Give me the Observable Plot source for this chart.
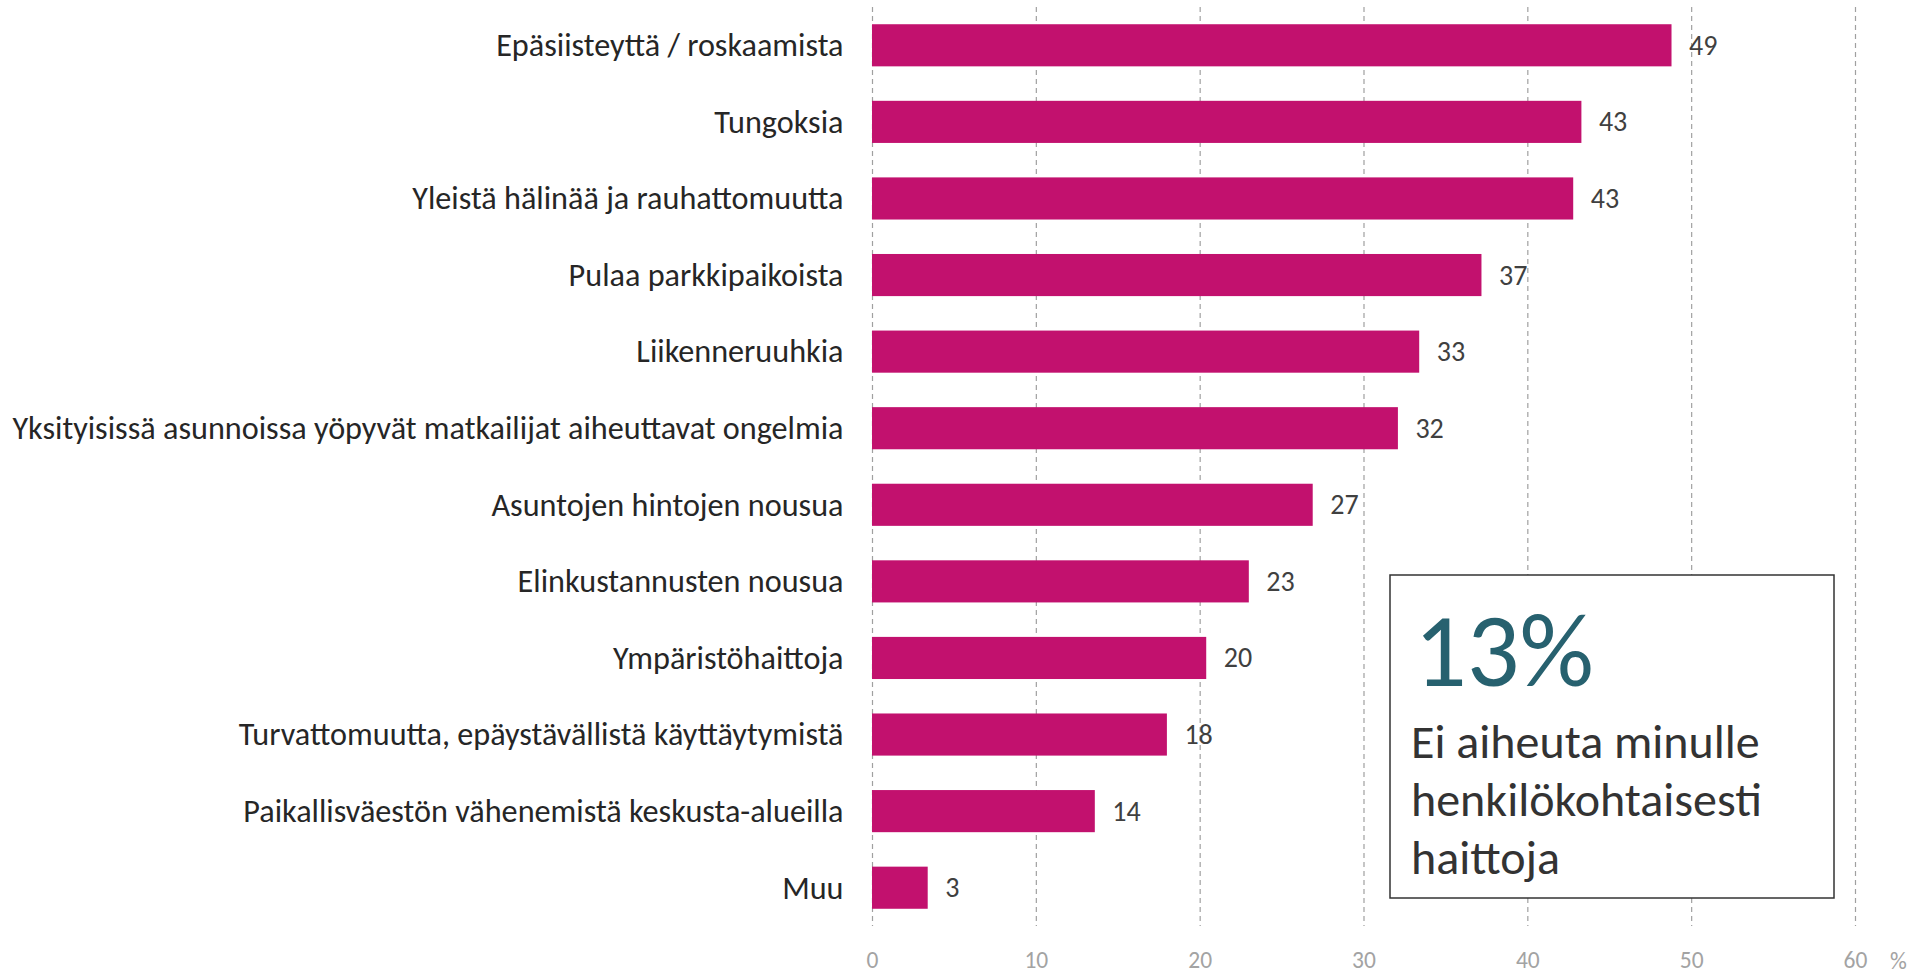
<!DOCTYPE html>
<html>
<head>
<meta charset="utf-8">
<script src="https://cdn.jsdelivr.net/npm/d3@7"></script>
<script src="https://cdn.jsdelivr.net/npm/@observablehq/plot@0.6"></script>
<style>
  html, body { margin: 0; padding: 0; background: #fff; }
  #wrap { position: relative; width: 1921px; height: 980px; overflow: hidden; }
  #chart { position: absolute; left: 0; top: 0; }
  #note { position: absolute; left: 0; top: 0; }
</style>
</head>
<body>
<div id="wrap">
  <div id="chart"></div>
  <svg id="note" width="1921" height="980"></svg>
</div>
<script>
const categories = [
  "Epäsiisteyttä / roskaamista",
  "Tungoksia",
  "Yleistä hälinää ja rauhattomuutta",
  "Pulaa parkkipaikoista",
  "Liikenneruuhkia",
  "Yksityisissä asunnoissa yöpyvät matkailijat aiheuttavat ongelmia",
  "Asuntojen hintojen nousua",
  "Elinkustannusten nousua",
  "Ympäristöhaittoja",
  "Turvattomuutta, epäystävällistä käyttäytymistä",
  "Paikallisväestön vähenemistä keskusta-alueilla",
  "Muu"
];
const values = [48.8, 43.3, 42.8, 37.2, 33.4, 32.1, 26.9, 23.0, 20.4, 18.0, 13.6, 3.4];
const valueLabels = ["49", "43", "43", "37", "33", "32", "27", "23", "20", "18", "14", "3"];
const xTicks = [0, 10, 20, 30, 40, 50, 60];
const unitLabel = "%";
const noteValue = "13%";
const noteLines = ["Ei aiheuta minulle", "henkilökohtaisesti", "haittoja"];

const data = categories.map((c, i) => ({cat: c, value: values[i], label: valueLabels[i]}));
const FONT = "Carlito, Lato, 'Open Sans', sans-serif";

const chart = Plot.plot({
  width: 1921,
  height: 980,
  marginLeft: 872,
  marginRight: 66,
  marginTop: 7,
  marginBottom: 54,
  style: {fontFamily: FONT, background: "#fff", overflow: "visible"},
  x: {domain: [0, 60], ticks: xTicks},
  y: {domain: categories, paddingInner: 0.45, paddingOuter: 0.225, round: false},
  marks: [
    Plot.ruleX(xTicks, {stroke: "#a0a0a0", strokeDasharray: "5,4", strokeWidth: 1.2}),
    Plot.barX(data, {x: "value", y: "cat", fill: "#c2116e"}),
    Plot.text(data, {x: "value", y: "cat", text: "label", dx: 17, textAnchor: "start", fontSize: 28, fill: "#404040"}),
    Plot.axisY({tickSize: 0, tickPadding: 29, fontSize: 32.2, color: "#262626", label: null}),
    Plot.axisX(xTicks, {tickSize: 0, tickPadding: 25, fontSize: 23.5, color: "#a3a3a3", label: null}),
    Plot.text([unitLabel], {x: () => 60, text: d => d, frameAnchor: "bottom", lineAnchor: "middle", dx: 43, dy: 35, fontSize: 23.5, fill: "#a3a3a3"})
  ]
});
document.getElementById("chart").appendChild(chart);

// Note box
const svg = d3.select("#note");
const bx = 1390, by = 575, bw = 444, bh = 323;
svg.append("rect").attr("x", bx).attr("y", by).attr("width", bw).attr("height", bh)
  .attr("fill", "#fff").attr("stroke", "#333").attr("stroke-width", 1.5);
svg.append("text").attr("x", bx + 24).attr("y", by + 111)
  .attr("font-family", FONT).attr("font-size", 104).attr("fill", "#27616f").text(noteValue);
noteLines.forEach((t, i) => {
  svg.append("text").attr("x", bx + 21).attr("y", by + 183 + i * 58)
    .attr("font-family", FONT).attr("font-size", 48).attr("fill", "#333").text(t);
});
</script>
</body>
</html>
